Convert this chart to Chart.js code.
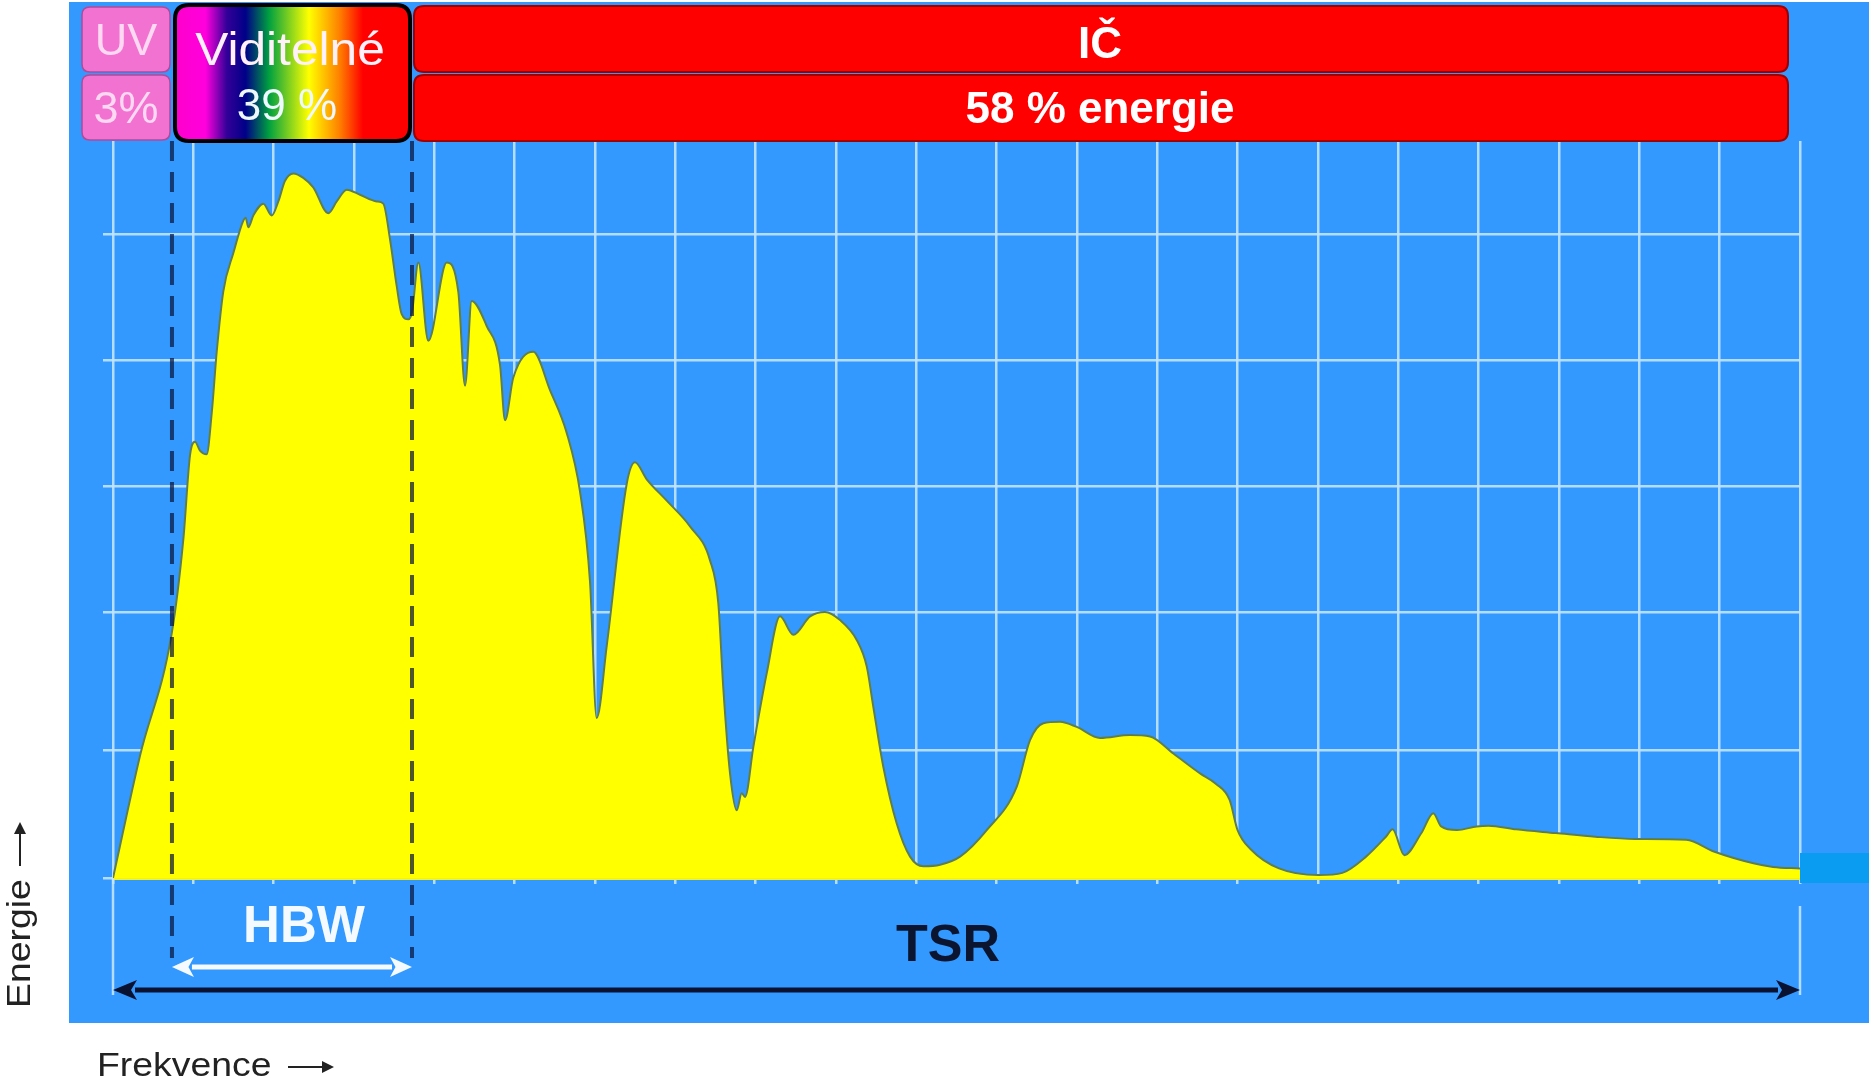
<!DOCTYPE html>
<html lang="cs">
<head>
<meta charset="utf-8">
<title>Sluneční spektrum</title>
<script src="https://cdn.jsdelivr.net/npm/chart.js"></script>
<style>
  html, body { margin: 0; padding: 0; background: #fff; }
  #spectrum { display: block; }
</style>
</head>
<body>
<canvas id="spectrum" width="1869" height="1080"></canvas>
<script>
// frekvence v jednotkách mřížky (0 až 21)
const freq = [
  0, 0.336, 0.731, 0.875, 0.959, 1.021, 1.083, 1.166, 1.229, 1.291,
  1.373, 1.498, 1.622, 1.652, 1.684, 1.747, 1.871, 1.976, 2.058, 2.141,
  2.245, 2.369, 2.493, 2.680, 2.785, 2.909, 3.075, 3.283, 3.365, 3.448,
  3.532, 3.594, 3.676, 3.722, 3.801, 3.925, 4.154, 4.299, 4.382, 4.465,
  4.652, 4.818, 4.880, 4.983, 5.232, 5.440, 5.648, 5.814, 5.938, 6.021,
  6.146, 6.395, 6.498, 6.644, 6.893, 7.183, 7.432, 7.535, 7.597, 7.681,
  7.764, 7.826, 7.868, 7.971, 8.138, 8.303, 8.469, 8.677, 8.863, 9.050,
  9.258, 9.383, 9.465, 9.589, 9.756, 9.922, 10.087, 10.295, 10.544, 10.876,
  11.250, 11.415, 11.581, 11.789, 11.997, 12.287, 12.660, 12.909, 13.199, 13.532,
  13.728, 13.900, 13.999, 14.172, 14.515, 15.008, 15.303, 15.598, 15.845, 15.928,
  16.075, 16.287, 16.435, 16.533, 16.731, 16.976, 17.123, 17.468, 17.960, 18.453,
  18.944, 19.584, 19.928, 20.421, 20.665, 21.0
];

// energie (relativní, 0 až 100)
const energy = [
  0, 16.6, 33.2, 45.9, 57.4, 59.2, 58.0, 57.5, 63.1, 71.4,
  79.6, 84.8, 89.2, 89.6, 88.3, 89.9, 91.5, 89.9, 91.8, 94.6,
  95.6, 95.0, 93.7, 90.2, 91.8, 93.4, 92.7, 91.8, 91.5, 86.7,
  80.3, 76.5, 75.8, 76.8, 83.5, 72.9, 83.5, 79.5, 66.8, 78.3,
  74.9, 69.6, 62.1, 67.9, 71.4, 66.2, 60.4, 52.4, 40.2, 21.7,
  31.5, 53.5, 56.4, 54.1, 51.2, 47.7, 43.1, 37.3, 25.8, 14.2,
  9.2, 11.5, 11.0, 17.8, 27.8, 35.5, 33.0, 35.5, 36.1, 35.0,
  32.3, 28.7, 23.2, 15.1, 7.4, 2.9, 1.6, 1.8, 2.9, 6.5,
  12.4, 18.7, 21.0, 21.2, 20.5, 19.0, 19.4, 19.2, 16.9, 14.2,
  12.8, 10.6, 6.5, 3.8, 1.3, 0.4, 0.7, 2.9, 5.6, 6.6,
  3.1, 6.1, 8.8, 7.0, 6.5, 7.0, 7.1, 6.6, 6.1, 5.6,
  5.3, 5.2, 3.6, 2.0, 1.5, 1.3
];

// vodorovné čáry mřížky
const gridY = [0, 17.4, 36.0, 53.2, 70.3, 87.4];

// rozsahy šipek
const hbwRange = [0.734, 3.722];
const tsrRange = [0, 21];

const FONT = "'Liberation Sans', Arial, sans-serif";
const BLUE = "#3399ff";
const GRID = "rgba(195, 228, 255, 0.9)";

function roundBox(ctx, x, y, w, h, r) {
  ctx.beginPath();
  ctx.moveTo(x + r, y);
  ctx.lineTo(x + w - r, y);
  ctx.quadraticCurveTo(x + w, y, x + w, y + r);
  ctx.lineTo(x + w, y + h - r);
  ctx.quadraticCurveTo(x + w, y + h, x + w - r, y + h);
  ctx.lineTo(x + r, y + h);
  ctx.quadraticCurveTo(x, y + h, x, y + h - r);
  ctx.lineTo(x, y + r);
  ctx.quadraticCurveTo(x, y, x + r, y);
  ctx.closePath();
}

function text(ctx, s, x, y, font, color, sx = 1, align = "center") {
  ctx.save();
  ctx.translate(x, y);
  ctx.scale(sx, 1);
  ctx.font = font;
  ctx.fillStyle = color;
  ctx.textAlign = align;
  ctx.textBaseline = "alphabetic";
  ctx.fillText(s, 0, 0);
  ctx.restore();
}

function arrow(ctx, x1, x2, y, color, width, head, half, both) {
  ctx.save();
  ctx.strokeStyle = color;
  ctx.fillStyle = color;
  ctx.lineWidth = width;
  ctx.beginPath();
  ctx.moveTo(x1 + (both ? head - 2 : 0), y);
  ctx.lineTo(x2 - head + 2, y);
  ctx.stroke();
  ctx.beginPath();
  ctx.moveTo(x2, y);
  ctx.lineTo(x2 - head, y - half);
  ctx.lineTo(x2 - head * 0.75, y);
  ctx.lineTo(x2 - head, y + half);
  ctx.closePath();
  ctx.fill();
  if (both) {
    ctx.beginPath();
    ctx.moveTo(x1, y);
    ctx.lineTo(x1 + head, y - half);
    ctx.lineTo(x1 + head * 0.75, y);
    ctx.lineTo(x1 + head, y + half);
    ctx.closePath();
    ctx.fill();
  }
  ctx.restore();
}

const decor = {
  id: "decor",
  beforeDraw(chart) {
    const ctx = chart.ctx;
    ctx.save();
    ctx.fillStyle = "#ffffff";
    ctx.fillRect(0, 0, chart.width, chart.height);
    ctx.fillStyle = BLUE;
    ctx.fillRect(69, 2, chart.width - 69, 1021);
    ctx.restore();
  },
  afterDatasetsDraw(chart) {
    const ctx = chart.ctx;
    const xs = chart.scales.x;
    const area = chart.chartArea;

    // přesah krajních svislic dolů
    ctx.save();
    ctx.strokeStyle = GRID;
    ctx.lineWidth = 2.5;
    const l = xs.getPixelForValue(tsrRange[0]);
    ctx.beginPath(); ctx.moveTo(l, area.bottom); ctx.lineTo(l, 995); ctx.stroke();
    const r = xs.getPixelForValue(tsrRange[1]);
    ctx.beginPath(); ctx.moveTo(r, area.bottom + 28); ctx.lineTo(r, 995); ctx.stroke();
    ctx.restore();

    // světlý obdélník vpravo
    ctx.fillStyle = "#0a9cf0";
    ctx.fillRect(r, area.bottom - 25, chart.width, 30);

    // čárkované hranice HBW
    ctx.save();
    ctx.strokeStyle = "rgba(10, 20, 60, 0.72)";
    ctx.lineWidth = 4;
    ctx.setLineDash([20, 11]);
    hbwRange.forEach(v => {
      const px = xs.getPixelForValue(v);
      ctx.beginPath();
      ctx.moveTo(px, area.top);
      ctx.lineTo(px, 958);
      ctx.stroke();
    });
    ctx.restore();

    // šipky
    const h0 = xs.getPixelForValue(hbwRange[0]);
    const h1 = xs.getPixelForValue(hbwRange[1]);
    arrow(ctx, h0, h1, 967, "#f4faff", 5, 22, 10, true);
    const t0 = xs.getPixelForValue(tsrRange[0]);
    const t1 = xs.getPixelForValue(tsrRange[1]);
    arrow(ctx, t0, t1, 990, "#0a1232", 5, 24, 10, true);

    text(ctx, "HBW", 304, 942, "bold 51px " + FONT, "#f4faff");
    text(ctx, "TSR", 948, 961, "bold 52px " + FONT, "#0b1530");

    // horní pásy
    ctx.save();
    ctx.lineWidth = 1.5;
    ctx.fillStyle = "#f272d2";
    ctx.strokeStyle = "#b04a9a";
    roundBox(ctx, 82, 7, 88, 65, 8); ctx.fill(); ctx.stroke();
    roundBox(ctx, 82, 75, 88, 65, 8); ctx.fill(); ctx.stroke();

    ctx.fillStyle = "#ff0000";
    ctx.strokeStyle = "#a00000";
    ctx.lineWidth = 2;
    roundBox(ctx, 414, 6, 1374, 66, 10); ctx.fill(); ctx.stroke();
    roundBox(ctx, 414, 75, 1374, 66, 10); ctx.fill(); ctx.stroke();

    const g = ctx.createLinearGradient(175, 0, 410, 0);
    g.addColorStop(0.0, "#ff00cc");
    g.addColorStop(0.13, "#ff00dd");
    g.addColorStop(0.22, "#330099");
    g.addColorStop(0.30, "#000088");
    g.addColorStop(0.40, "#00a040");
    g.addColorStop(0.57, "#ffff00");
    g.addColorStop(0.70, "#ff8000");
    g.addColorStop(0.80, "#ff0000");
    g.addColorStop(1.0, "#ff0000");
    ctx.fillStyle = g;
    ctx.strokeStyle = "#000000";
    ctx.lineWidth = 4;
    roundBox(ctx, 175, 5, 235, 136, 14); ctx.fill(); ctx.stroke();
    ctx.restore();

    text(ctx, "UV", 126, 55, "45px " + FONT, "#ffd8f2");
    text(ctx, "3%", 126, 123, "45px " + FONT, "#ffd8f2");
    text(ctx, "Viditelné", 290, 65, "46px " + FONT, "#fff0fa", 1.08);
    text(ctx, "39 %", 287, 120, "44px " + FONT, "#eef8ff");
    text(ctx, "IČ", 1100, 58, "bold 44px " + FONT, "#ffffff");
    text(ctx, "58 % energie", 1100, 123, "bold 44px " + FONT, "#ffffff");

    // popisky os
    text(ctx, "Frekvence", 97, 1076, "34px " + FONT, "#222222", 1.1, "left");
    ctx.save();
    ctx.strokeStyle = "#222222";
    ctx.fillStyle = "#222222";
    ctx.lineWidth = 2;
    ctx.beginPath(); ctx.moveTo(288, 1067); ctx.lineTo(326, 1067); ctx.stroke();
    ctx.beginPath(); ctx.moveTo(334, 1067); ctx.lineTo(322, 1061); ctx.lineTo(322, 1073); ctx.closePath(); ctx.fill();

    ctx.translate(30, 1008);
    ctx.rotate(-Math.PI / 2);
    ctx.scale(1.1, 1);
    ctx.font = "34px " + FONT;
    ctx.textAlign = "left";
    ctx.fillText("Energie", 0, 0);
    ctx.restore();

    ctx.save();
    ctx.strokeStyle = "#222222";
    ctx.fillStyle = "#222222";
    ctx.lineWidth = 2;
    ctx.beginPath(); ctx.moveTo(20, 866); ctx.lineTo(20, 831); ctx.stroke();
    ctx.beginPath(); ctx.moveTo(20, 822); ctx.lineTo(14, 834); ctx.lineTo(26, 834); ctx.closePath(); ctx.fill();
    ctx.restore();
  }
};

const ctx = document.getElementById("spectrum").getContext("2d");

new Chart(ctx, {
  type: "scatter",
  data: {
    datasets: [{
      data: freq.map((x, i) => ({ x: x, y: energy[i] })),
      showLine: true,
      fill: "origin",
      backgroundColor: "#ffff00",
      borderColor: "#5d7d52",
      borderWidth: 2,
      pointRadius: 0,
      cubicInterpolationMode: "monotone"
    }]
  },
  options: {
    responsive: false,
    animation: false,
    layout: { padding: { left: 103, right: 69, top: 141, bottom: 196 } },
    plugins: {
      legend: { display: false },
      tooltip: { enabled: false }
    },
    scales: {
      x: {
        type: "linear",
        min: 0,
        max: 21,
        ticks: { display: false, stepSize: 1 },
        grid: { color: GRID, lineWidth: 2.5, drawTicks: true, tickLength: 6, tickColor: GRID },
        border: { display: true, color: "#f2f21e", width: 3 }
      },
      y: {
        min: 0,
        max: 100,
        afterBuildTicks: (scale) => { scale.ticks = gridY.map(v => ({ value: v })); },
        ticks: { display: false },
        grid: { color: GRID, lineWidth: 2.5, drawTicks: true, tickLength: 10, tickColor: GRID },
        border: { display: false }
      }
    }
  },
  plugins: [decor]
});
</script>
</body>
</html>
